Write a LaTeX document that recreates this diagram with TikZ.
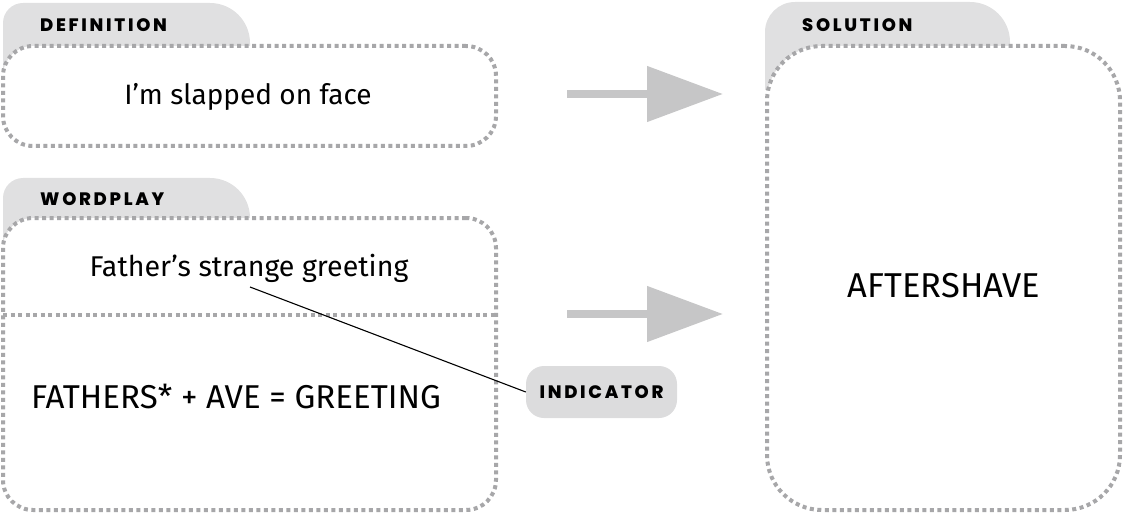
\documentclass[tikz,border=0pt]{standalone}
\usepackage{fontspec}
\usetikzlibrary{arrows.meta}
\IfFontExistsTF{Fira Sans Book}{\newfontfamily\bodyf{Fira Sans Book}}{\newfontfamily\bodyf{Fira Sans}}
\IfFontExistsTF{Poppins ExtraBold}{\newfontfamily\labf[LetterSpace=15]{Poppins ExtraBold}}{\IfFontExistsTF{Poppins Bold}{\newfontfamily\labf[LetterSpace=15,FakeBold=1.5]{Poppins Bold}}{\newfontfamily\labf[LetterSpace=15,FakeBold=3]{Poppins}}}
\definecolor{tabgrey}{HTML}{E0E0E1}
\definecolor{dotgrey}{HTML}{A7A7A9}
\definecolor{arrowgrey}{HTML}{C6C6C7}
\definecolor{indgrey}{HTML}{DCDCDD}
\tikzset{
  dotbox/.style={draw=dotgrey, line width=4pt, dash pattern=on 4pt off 3.5pt, fill=white, inner sep=0pt},
  dotline/.style={draw=dotgrey, line width=4pt, dash pattern=on 4pt off 3.5pt},
  tabshape/.style={fill=tabgrey},
  bigarrow/.style={draw=arrowgrey, line width=8pt, -{Triangle[length=76pt, width=54pt]}},
  smalltxt/.style={font=\bodyf\fontsize{28}{34}\selectfont, inner sep=0pt, anchor=base},
  capstxt/.style={font=\bodyf\fontsize{33}{40}\selectfont, inner sep=0pt, anchor=base},
  labeltxt/.style={font=\labf\fontsize{18}{22}\selectfont, inner sep=0pt, anchor=base west},
  indbox/.style={fill=indgrey, rounded corners=18pt, minimum width=151pt, minimum height=52pt, inner sep=0pt, font=\labf\fontsize{18}{22}\selectfont},
  pointer/.style={draw=black, line width=1.1pt}
}
\begin{document}
\begin{tikzpicture}[x=1pt, y=1pt]
\useasboundingbox (0,0) rectangle (1124,515);
% tabs
\fill[tabshape] (3,425) -- (3,492) arc[start angle=180, end angle=90, radius=20] -- (210,512) arc[start angle=90, end angle=0, radius=40] -- (250,425) -- cycle;
\fill[tabshape] (3,250) -- (3,317) arc[start angle=180, end angle=90, radius=20] -- (210,337) arc[start angle=90, end angle=0, radius=40] -- (250,250) -- cycle;
\fill[tabshape] (765,425) -- (765,483) arc[start angle=180, end angle=90, radius=30] -- (970,513) arc[start angle=90, end angle=0, radius=40] -- (1010,425) -- cycle;
% boxes
\node[dotbox, rounded corners=30pt, minimum width=493pt, minimum height=100pt] (defbox) at (249.5,419) {};
\node[dotbox, rounded corners=30pt, minimum width=493pt, minimum height=292pt] (wpbox) at (249.5,151) {};
\node[dotbox, rounded corners=55pt, minimum width=353pt, minimum height=464pt] (solbox) at (943.5,237) {};
\coordinate (d1) at (3,200);
\coordinate (d2) at (496,200);
\draw[dotline] (d1) -- (d2);
% labels
\node[labeltxt] (deflab) at (40,483) {DEFINITION};
\node[labeltxt] (wplab) at (40,310) {WORDPLAY};
\node[labeltxt] (sollab) at (802,483) {SOLUTION};
% texts
\node[smalltxt] (deftext) at (248,410) {I’m slapped on face};
\node[smalltxt, font=\bodyf\fontsize{28.6}{34}\selectfont] (wptext) at (249,239) {Father’s strange greeting};
\node[capstxt] (wpcalc) at (236,107) {FATHERS* + AVE = GREETING};
\node[capstxt, font=\bodyf\fontsize{34.5}{40}\selectfont] (soltext) at (944,218) {AFTERSHAVE};
% indicator
\node[indbox] (ind) at (601.5,123) {INDICATOR};
\coordinate (ptr) at (250,228);
\draw[pointer] (ptr) -- (ind.west);
% arrows
\coordinate (a1s) at (567,421);
\coordinate (a1e) at (723,421);
\coordinate (a2s) at (567,201);
\coordinate (a2e) at (723,201);
\draw[bigarrow] (a1s) -- (a1e);
\draw[bigarrow] (a2s) -- (a2e);
\end{tikzpicture}
\end{document}
